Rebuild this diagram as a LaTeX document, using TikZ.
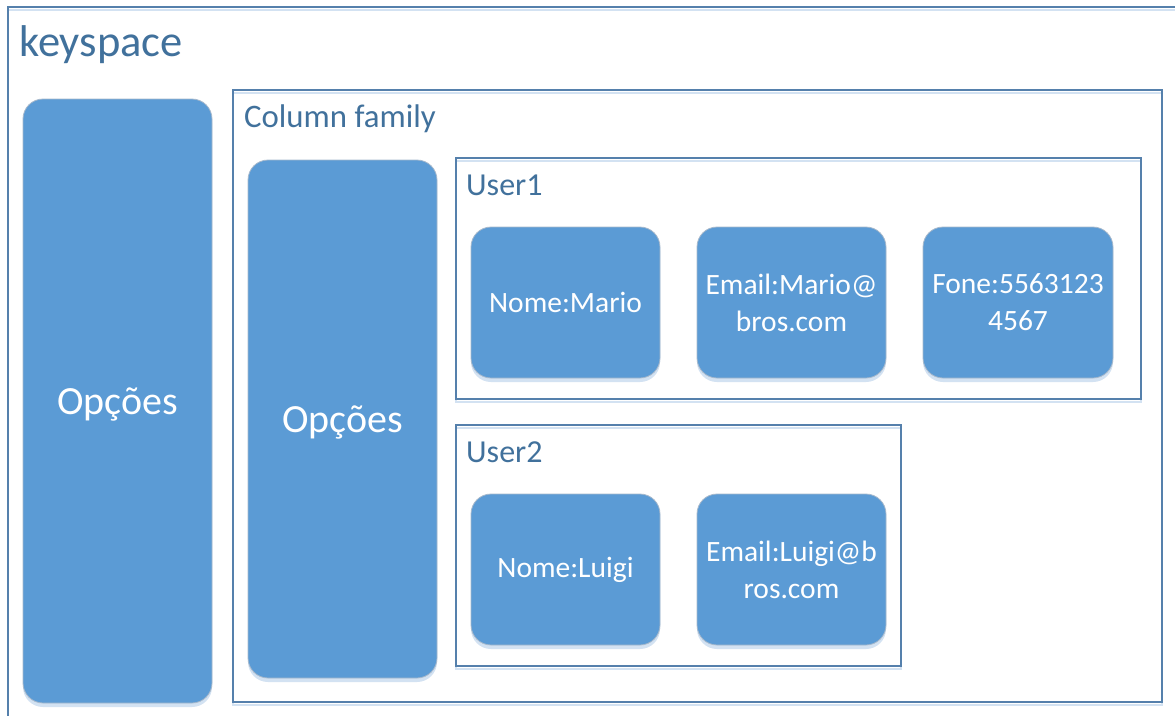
\documentclass[tikz,border=0pt]{standalone}
\usepackage{fontspec}
\setmainfont{Carlito}
\definecolor{fillc}{HTML}{5B9BD5}
\definecolor{linec}{HTML}{5580AC}
\definecolor{textc}{HTML}{41719C}
\definecolor{shadc}{HTML}{D3E2F2}
\definecolor{edgec}{HTML}{A7B9CC}
\begin{document}
\begin{tikzpicture}[x=1pt,y=-1pt,
  frame/.style={draw=linec, line width=1.3pt, inner sep=0pt, outer sep=0pt, anchor=north west,
    preaction={draw=shadc, line width=2.5pt, transform canvas={shift={(0,3)}}}},
  cell/.style={fill=fillc, draw=edgec, line width=0.8pt, rounded corners=20pt, inner sep=0pt, outer sep=0pt,
    text=white, align=center, font=\fontsize{29.5}{37}\selectfont,
    preaction={fill=shadc, draw=none, transform canvas={shift={(0,4)}}}},
  opt/.style={cell, font=\fontsize{40}{48}\selectfont},
  lbl/.style={text=textc, inner sep=0pt, anchor=base west}
]
\useasboundingbox (0,0) rectangle (1175,715);
\clip (0,0) rectangle (1175,715);
\fill[white] (0,0) rectangle (1175,715);
% containers
\node[frame, minimum width=1200pt, minimum height=740pt] (ks) at (8,7) {};
\node[frame, minimum width=929pt, minimum height=612pt] (cf) at (233,90) {};
\node[frame, minimum width=685pt, minimum height=241pt] (u1) at (456,158) {};
\node[frame, minimum width=445pt, minimum height=241pt] (u2) at (456,425) {};
% labels
\node[lbl, font=\fontsize{44.5}{52}\selectfont] (kst) at (19,56) {keyspace};
\node[lbl, font=\fontsize{32.8}{38}\selectfont] (cft) at (244,127) {Column family};
\node[lbl, font=\fontsize{32}{38}\selectfont] (u1t) at (466,195) {User1};
\node[lbl, font=\fontsize{32}{38}\selectfont] (u2t) at (466,462) {User2};
% options
\node[opt, minimum width=189pt, minimum height=604pt] (o1) at (117.5,401) {\raisebox{-3pt}[\height][\depth]{Opções}};
\node[opt, minimum width=189pt, minimum height=518pt] (o2) at (342.5,419) {\raisebox{-3pt}[\height][\depth]{Opções}};
% cells
\node[cell, minimum width=189pt, minimum height=151pt] (n1) at (565.5,302.5) {Nome:Mario};
\node[cell, minimum width=189pt, minimum height=151pt] (e1) at (791.5,302.5) {Email:Mario@\\bros.com};
\node[cell, minimum width=190pt, minimum height=151pt] (f1) at (1018,302.5) {Fone:5563123\\4567};
\node[cell, minimum width=189pt, minimum height=151pt] (n2) at (565.5,569.5) {Nome:Luigi};
\node[cell, minimum width=189pt, minimum height=151pt] (e2) at (791.5,569.5) {Email:Luigi@b\\ros.com};
\end{tikzpicture}
\end{document}
